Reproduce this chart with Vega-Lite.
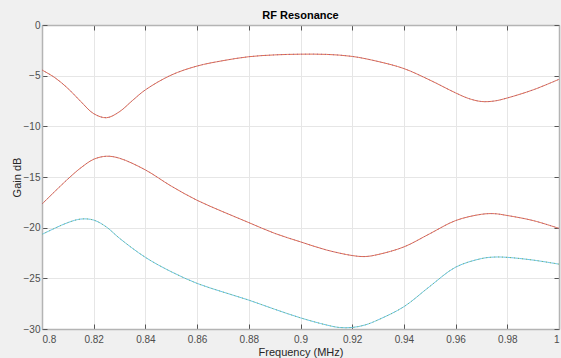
{
  "$schema": "https://vega.github.io/schema/vega-lite/v6.json",
  "width": 517,
  "height": 304,
  "autosize": {"type": "none"},
  "padding": {"left": 42, "top": 25, "right": 2, "bottom": 29},
  "background": "#f0f0f0",
  "title": {"text": "RF Resonance", "font": "Liberation Sans", "fontSize": 11, "fontWeight": "bold", "color": "#000000", "offset": -1, "anchor": "middle"},
  "config": {
    "view": {"fill": "#ffffff", "stroke": null},
    "axis": {"labelFont": "Liberation Sans", "titleFont": "Liberation Sans", "labelFontSize": 10, "titleFontSize": 11, "labelColor": "#4d4d4d", "titleColor": "#262626", "titleFontWeight": "normal", "domainColor": "#b4b4b4", "domainWidth": 1.5, "tickColor": "#555555", "gridColor": "#e6e6e6", "gridOpacity": 1}
  },
  "data": {"values": [
    {"f": 0.80, "g": -4.44, "c": "top"},
    {"f": 0.805, "g": -5.2, "c": "top"},
    {"f": 0.81, "g": -6.25, "c": "top"},
    {"f": 0.815, "g": -7.55, "c": "top"},
    {"f": 0.82, "g": -8.75, "c": "top"},
    {"f": 0.825, "g": -9.15, "c": "top"},
    {"f": 0.83, "g": -8.55, "c": "top"},
    {"f": 0.835, "g": -7.45, "c": "top"},
    {"f": 0.84, "g": -6.4, "c": "top"},
    {"f": 0.85, "g": -4.94, "c": "top"},
    {"f": 0.86, "g": -4.05, "c": "top"},
    {"f": 0.87, "g": -3.52, "c": "top"},
    {"f": 0.88, "g": -3.13, "c": "top"},
    {"f": 0.89, "g": -2.95, "c": "top"},
    {"f": 0.90, "g": -2.88, "c": "top"},
    {"f": 0.91, "g": -2.9, "c": "top"},
    {"f": 0.92, "g": -3.1, "c": "top"},
    {"f": 0.93, "g": -3.6, "c": "top"},
    {"f": 0.94, "g": -4.3, "c": "top"},
    {"f": 0.95, "g": -5.43, "c": "top"},
    {"f": 0.96, "g": -6.7, "c": "top"},
    {"f": 0.965, "g": -7.25, "c": "top"},
    {"f": 0.97, "g": -7.55, "c": "top"},
    {"f": 0.975, "g": -7.5, "c": "top"},
    {"f": 0.98, "g": -7.2, "c": "top"},
    {"f": 0.99, "g": -6.4, "c": "top"},
    {"f": 1.00, "g": -5.36, "c": "top"},
    {"f": 0.80, "g": -17.67, "c": "mid"},
    {"f": 0.81, "g": -15.2, "c": "mid"},
    {"f": 0.815, "g": -14.1, "c": "mid"},
    {"f": 0.82, "g": -13.25, "c": "mid"},
    {"f": 0.825, "g": -12.95, "c": "mid"},
    {"f": 0.83, "g": -13.15, "c": "mid"},
    {"f": 0.84, "g": -14.3, "c": "mid"},
    {"f": 0.85, "g": -15.9, "c": "mid"},
    {"f": 0.86, "g": -17.3, "c": "mid"},
    {"f": 0.87, "g": -18.43, "c": "mid"},
    {"f": 0.88, "g": -19.5, "c": "mid"},
    {"f": 0.89, "g": -20.56, "c": "mid"},
    {"f": 0.90, "g": -21.4, "c": "mid"},
    {"f": 0.91, "g": -22.2, "c": "mid"},
    {"f": 0.92, "g": -22.75, "c": "mid"},
    {"f": 0.925, "g": -22.85, "c": "mid"},
    {"f": 0.93, "g": -22.65, "c": "mid"},
    {"f": 0.94, "g": -21.9, "c": "mid"},
    {"f": 0.95, "g": -20.6, "c": "mid"},
    {"f": 0.96, "g": -19.3, "c": "mid"},
    {"f": 0.97, "g": -18.68, "c": "mid"},
    {"f": 0.975, "g": -18.62, "c": "mid"},
    {"f": 0.98, "g": -18.8, "c": "mid"},
    {"f": 0.99, "g": -19.3, "c": "mid"},
    {"f": 1.00, "g": -20.07, "c": "mid"},
    {"f": 0.80, "g": -20.66, "c": "bot"},
    {"f": 0.805, "g": -20.05, "c": "bot"},
    {"f": 0.81, "g": -19.5, "c": "bot"},
    {"f": 0.815, "g": -19.15, "c": "bot"},
    {"f": 0.82, "g": -19.25, "c": "bot"},
    {"f": 0.825, "g": -19.95, "c": "bot"},
    {"f": 0.83, "g": -21.05, "c": "bot"},
    {"f": 0.84, "g": -22.93, "c": "bot"},
    {"f": 0.85, "g": -24.35, "c": "bot"},
    {"f": 0.86, "g": -25.5, "c": "bot"},
    {"f": 0.87, "g": -26.35, "c": "bot"},
    {"f": 0.88, "g": -27.15, "c": "bot"},
    {"f": 0.89, "g": -28.05, "c": "bot"},
    {"f": 0.90, "g": -28.9, "c": "bot"},
    {"f": 0.91, "g": -29.6, "c": "bot"},
    {"f": 0.915, "g": -29.85, "c": "bot"},
    {"f": 0.92, "g": -29.85, "c": "bot"},
    {"f": 0.925, "g": -29.6, "c": "bot"},
    {"f": 0.93, "g": -29.1, "c": "bot"},
    {"f": 0.94, "g": -27.8, "c": "bot"},
    {"f": 0.95, "g": -25.8, "c": "bot"},
    {"f": 0.96, "g": -23.9, "c": "bot"},
    {"f": 0.97, "g": -23.05, "c": "bot"},
    {"f": 0.975, "g": -22.9, "c": "bot"},
    {"f": 0.98, "g": -22.93, "c": "bot"},
    {"f": 0.99, "g": -23.2, "c": "bot"},
    {"f": 1.00, "g": -23.6, "c": "bot"}
  ]},
  "layer": [
    {
      "mark": {"type": "line", "strokeWidth": 1, "interpolate": "catmull-rom", "clip": true},
      "encoding": {
        "x": {"field": "f", "type": "quantitative", "scale": {"domain": [0.8, 1.0], "nice": false, "zero": false},
          "axis": {"orient": "bottom", "title": "Frequency (MHz)", "format": "~g", "values": [0.8, 0.82, 0.84, 0.86, 0.88, 0.9, 0.92, 0.94, 0.96, 0.98, 1.0], "tickSize": -5, "labelPadding": 10, "titlePadding": 2, "grid": true}},
        "y": {"field": "g", "type": "quantitative", "scale": {"domain": [-30, 0], "nice": false, "zero": false},
          "axis": {"orient": "left", "title": "Gain dB", "values": [-30, -25, -20, -15, -10, -5, 0], "tickSize": -5, "labelPadding": 7, "titlePadding": 1, "grid": true}},
        "color": {"field": "c", "type": "nominal", "scale": {"domain": ["top", "mid", "bot"], "range": ["#E07050", "#E07050", "#6CC4EA"]}, "legend": null}
      }
    },
    {
      "mark": {"type": "line", "strokeWidth": 1, "interpolate": "catmull-rom", "strokeDash": [1, 3], "opacity": 0.7, "clip": true},
      "encoding": {
        "x": {"field": "f", "type": "quantitative",
          "axis": {"orient": "top", "title": null, "labels": false, "values": [0.8, 0.82, 0.84, 0.86, 0.88, 0.9, 0.92, 0.94, 0.96, 0.98, 1.0], "tickSize": -5, "grid": false}},
        "y": {"field": "g", "type": "quantitative",
          "axis": {"orient": "right", "title": null, "labels": false, "values": [-30, -25, -20, -15, -10, -5, 0], "tickSize": -5, "grid": false}},
        "color": {"field": "c", "type": "nominal", "scale": {"domain": ["top2", "mid2", "bot2", "top", "mid", "bot"], "range": ["#7E2F8E", "#7E2F8E", "#77AC30", "#8E4F9E", "#8E4F9E", "#77AC30"]}, "legend": null}
      }
    }
  ],
  "resolve": {"axis": {"x": "independent", "y": "independent"}, "scale": {"color": "independent"}}
}
